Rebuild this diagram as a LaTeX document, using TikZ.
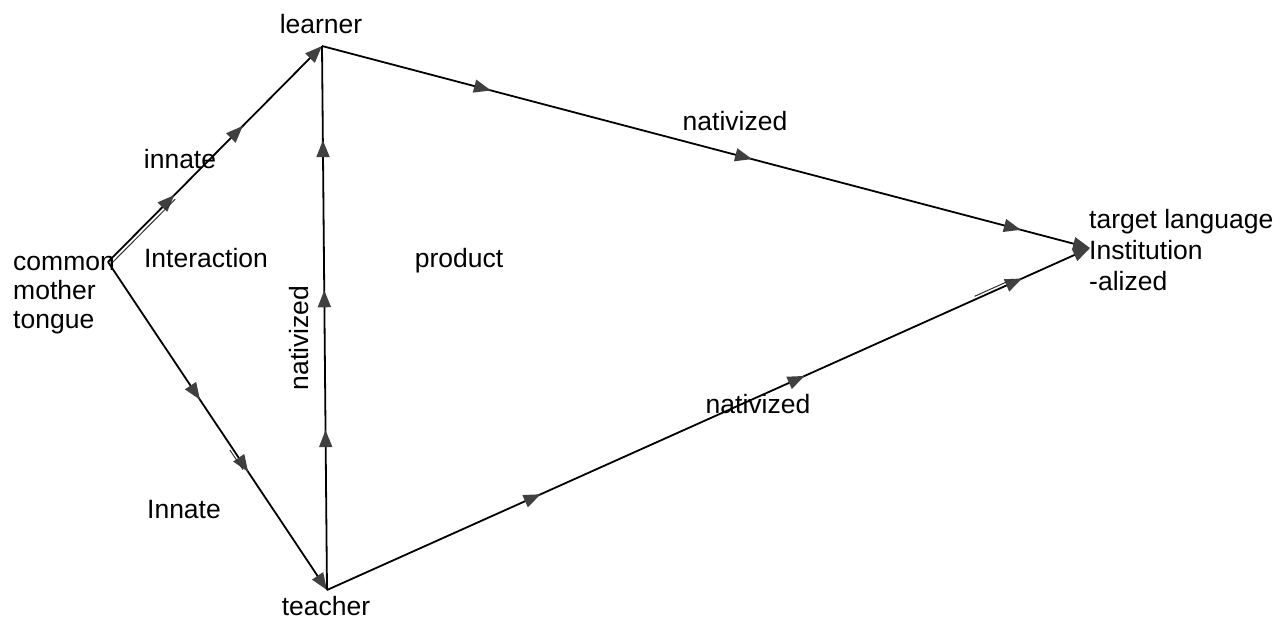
\documentclass[tikz,border=0pt]{standalone}
\usepackage{fontspec}
\setmainfont{Liberation Sans}
\usetikzlibrary{decorations.markings,arrows.meta,calc}
\definecolor{arrgray}{HTML}{404040}
\tikzset{
  tri/.tip={Triangle[length=17pt,width=13pt,fill=arrgray,color=arrgray]},
  edge/.style={draw=black,line width=1.8pt},
  am/.style={postaction={decorate,decoration={markings,mark=at position #1 with {\arrow{tri}}}}},
  lbl/.style={inner sep=0pt,font=\fontsize{26.5}{30}\selectfont},
  ghost/.style={draw=black!80,line width=1pt}
}
\begin{document}
\begin{tikzpicture}[x=1pt,y=-1pt]
\useasboundingbox (0,0) rectangle (1288,619);
% vertices
\coordinate (C) at (108,262);
\coordinate (L) at (322,46);
\coordinate (T) at (327,590);
\coordinate (G) at (1090,248);
% connectors
\draw[edge,-tri,am=0.31,am=0.63] (C) -- (L);
\draw[edge,-tri,am=0.42,am=0.64] (C) -- (T);
\draw[edge,am=0.294,am=0.551,am=0.827] (T) -- (L);
\draw[edge,-tri,am=0.22,am=0.56,am=0.91] (L) -- (G);
\draw[edge,-tri,am=0.28,am=0.626,am=0.911] (T) -- (G);
% scan double-line traces
\draw[ghost] ($(C)+(3,2)$) -- ($(C)!0.3!(L)+(3,2)$);
\draw[ghost] ($(C)!0.57!(T)+(-3,1)$) -- ($(C)!0.63!(T)+(-3,1)$);
\draw[ghost] ($(T)!0.85!(G)+(-1,-3)$) -- ($(T)!0.9!(G)+(-1,-3)$);
% labels
\node[lbl,anchor=base] (learner) at (321,33) {learner};
\node[lbl,anchor=base] (teacher) at (326,615) {teacher};
\node[lbl,anchor=base] (innate) at (180,168) {innate};
\node[lbl,anchor=base] (interaction) at (206,267) {Interaction};
\node[lbl,anchor=base] (Innate) at (184,518) {Innate};
\node[lbl,anchor=base] (product) at (459,267) {product};
\node[lbl,anchor=base] (nat1) at (735,130) {nativized};
\node[lbl,anchor=base] (nat2) at (758,413) {nativized};
\node[lbl,anchor=base,rotate=90] (nat3) at (308,338) {nativized};
\node[lbl,anchor=base west,align=left,font=\fontsize{26.5}{29}\selectfont] (common) at (13,328) {common\\mother\\tongue};
\node[lbl,anchor=base west,align=left,font=\fontsize{26.5}{31}\selectfont] (target) at (1089,290) {target language\\Institution\\-alized};
\end{tikzpicture}
\end{document}
